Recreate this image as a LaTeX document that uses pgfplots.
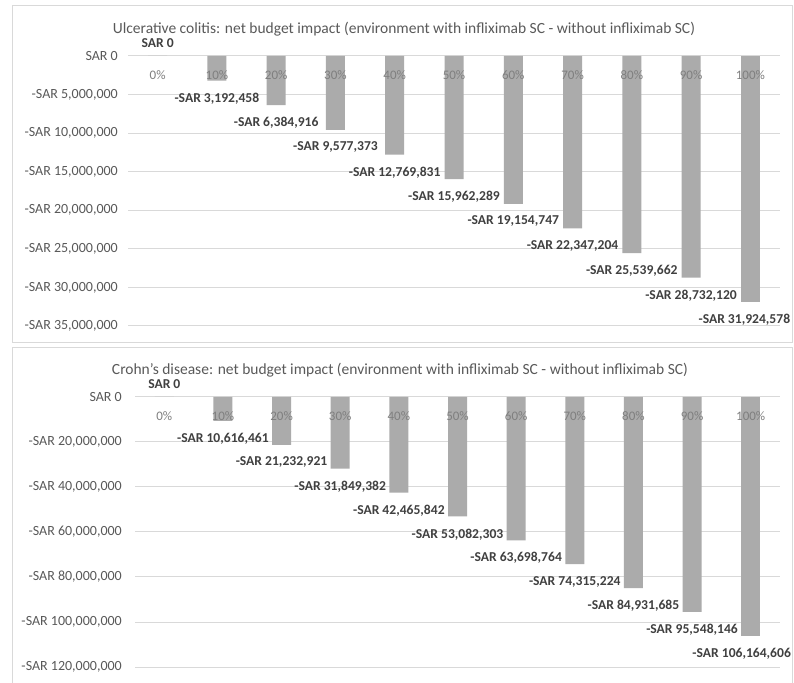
\documentclass[border=0pt]{standalone}
\usepackage{pgfplots}
\pgfplotsset{compat=1.18}
\usepackage{fontspec}
\setmainfont{Carlito}
\definecolor{barc}{HTML}{ABABAB}
\definecolor{gridc}{HTML}{D9D9D9}
\definecolor{tickc}{HTML}{595959}
\definecolor{xtickc}{HTML}{7F7F7F}
\definecolor{labc}{HTML}{404040}
\definecolor{framec}{HTML}{D9D9D9}
\newcommand{\fs}{\fontsize{13}{16}\selectfont}
\newcommand{\fy}{\fontsize{14}{16}\selectfont}
\newcommand{\fl}{\fontsize{13.6}{16}\selectfont}
\newcommand{\ft}{\fontsize{15.5}{18}\selectfont}
\pgfplotsset{
 base/.style={
  scale only axis, clip=false,
  xmin=-0.5, xmax=10.5,
  axis line style={draw=none},
  major tick length=0pt,
  scaled y ticks=false,
 },
 bia/.style={
  base,
  xtick=\empty,
  ymajorgrids, grid style={gridc, line width=1pt},
  yticklabel style={font=\fy, text=tickc, anchor=east, inner sep=0pt},
  ybar, bar width=19pt,
  nodes near coords, point meta=explicit symbolic,
 },
 xlab/.style={
  base,
  ytick=\empty,
  xtick={0,1,2,3,4,5,6,7,8,9,10},
  xticklabels={0\%,10\%,20\%,30\%,40\%,50\%,60\%,70\%,80\%,90\%,100\%},
  xticklabel pos=upper,
  xticklabel style={anchor=center, yshift=-19pt, font=\fs, text=xtickc, inner sep=0pt},
 },
 barpos/.style={fill=barc, draw=none, bar shift=0pt,
  every node near coord/.append style={font=\fl\bfseries, text=labc, inner sep=0pt, anchor=south, yshift=8pt}},
 barneg/.style={fill=barc, draw=none, bar shift=0pt,
  every node near coord/.append style={font=\fl\bfseries, text=labc, inner sep=0pt, anchor=north, yshift=-12pt, xshift=#1}},
 barneg/.default=0pt,
}
\begin{document}
\begin{tikzpicture}[x=1pt,y=1pt]
\useasboundingbox (0,0) rectangle (794,682);
\fill[white] (0,0) rectangle (794,682);
\draw[framec, line width=1pt] (12,339) rectangle (792,676);
\draw[framec, line width=1pt] (12,-2)--(12,334)--(792,334)--(792,-2);
\node[font=\ft, text=tickc] at (404,653) {Ulcerative colitis: net budget impact (environment with infliximab SC - without infliximab SC)};
\node[font=\ft, text=tickc] at (400,312) {Crohn's disease: net budget impact (environment with infliximab SC - without infliximab SC)};

\begin{axis}[bia, at={(128pt,356pt)}, anchor=south west, width=652pt, height=270pt,
  ymin=-35e6, ymax=0,
  yticklabel style={xshift=-10pt},
  ytick={-35e6,-30e6,-25e6,-20e6,-15e6,-10e6,-5e6,0},
  yticklabels={{-SAR 35,000,000},{-SAR 30,000,000},{-SAR 25,000,000},{-SAR 20,000,000},{-SAR 15,000,000},{-SAR 10,000,000},{-SAR 5,000,000},{SAR 0}}]
\addplot[barpos] table[col sep=semicolon, meta=lab] {
x;y;lab
0;0;SAR 0
};
\addplot[barneg] table[col sep=semicolon, meta=lab] {
x;y;lab
1;-3192458;-SAR 3,192,458
2;-6384916;-SAR 6,384,916
3;-9577373;-SAR 9,577,373
4;-12769831;-SAR 12,769,831
5;-15962289;-SAR 15,962,289
6;-19154747;-SAR 19,154,747
7;-22347204;-SAR 22,347,204
8;-25539662;-SAR 25,539,662
9;-28732120;-SAR 28,732,120
};
\addplot[barneg=-6pt] table[col sep=semicolon, meta=lab] {
x;y;lab
10;-31924578;-SAR 31,924,578
};
\end{axis}
\begin{axis}[xlab, at={(128pt,356pt)}, anchor=south west, width=652pt, height=270pt,
  ymin=-35e6, ymax=0]
\end{axis}

\begin{axis}[bia, at={(135pt,15pt)}, anchor=south west, width=645pt, height=270pt,
  ymin=-120e6, ymax=0,
  yticklabel style={xshift=-13pt},
  ytick={-120e6,-100e6,-80e6,-60e6,-40e6,-20e6,0},
  yticklabels={{-SAR 120,000,000},{-SAR 100,000,000},{-SAR 80,000,000},{-SAR 60,000,000},{-SAR 40,000,000},{-SAR 20,000,000},{SAR 0}}]
\addplot[barpos] table[col sep=semicolon, meta=lab] {
x;y;lab
0;0;SAR 0
};
\addplot[barneg] table[col sep=semicolon, meta=lab] {
x;y;lab
1;-10616461;-SAR 10,616,461
2;-21232921;-SAR 21,232,921
3;-31849382;-SAR 31,849,382
4;-42465842;-SAR 42,465,842
5;-53082303;-SAR 53,082,303
6;-63698764;-SAR 63,698,764
7;-74315224;-SAR 74,315,224
8;-84931685;-SAR 84,931,685
9;-95548146;-SAR 95,548,146
};
\addplot[barneg=-9pt] table[col sep=semicolon, meta=lab] {
x;y;lab
10;-106164606;-SAR 106,164,606
};
\end{axis}
\begin{axis}[xlab, at={(135pt,15pt)}, anchor=south west, width=645pt, height=270pt,
  ymin=-120e6, ymax=0]
\end{axis}
\end{tikzpicture}
\end{document}
